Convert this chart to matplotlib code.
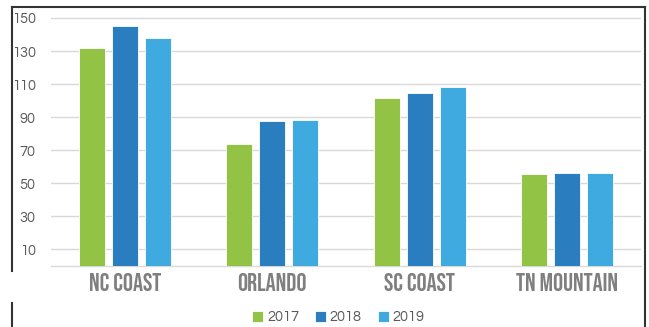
import matplotlib.pyplot as plt
import numpy as np
from matplotlib.lines import Line2D
import logging

logging.getLogger("matplotlib.font_manager").setLevel(logging.ERROR)

categorias = ["NC COAST", "ORLANDO", "SC COAST", "TN MOUNTAIN"]
anos = ["2017", "2018", "2019"]
valores_2017 = [132, 74, 101.5, 55.5]
valores_2018 = [145, 87.5, 104.5, 56]
valores_2019 = [138, 88, 108, 56.5]
ticks_y = [10, 30, 50, 70, 90, 110, 130, 150]

cores = ["#93c344", "#2a7ec0", "#3eaadf"]
fonte_num = ["Questrial", "Didact Gothic", "Lato", "DejaVu Sans"]
fonte_cat = ["Bebas Neue", "Oswald", "DejaVu Sans"]


def main():
    fig = plt.figure(figsize=(6.49, 3.27), dpi=100)
    ax = fig.add_axes([51 / 649, 1 - 266 / 327, 590 / 649, (266 - 16) / 327])

    x = np.arange(len(categorias))
    largura = 0.175
    passo = 0.224
    series = [valores_2017, valores_2018, valores_2019]
    for i, vals in enumerate(series):
        ax.bar(x + (i - 1) * passo, vals, largura, color=cores[i],
               edgecolor="white", linewidth=0.6, label=anos[i], zorder=3)

    ax.set_xlim(-0.5, len(categorias) - 0.5)
    ax.set_ylim(0, 151.2)
    ax.set_yticks(ticks_y)
    ax.set_yticklabels([str(t) for t in ticks_y], fontsize=10.5, color="#595959",
                       family=fonte_num)
    ax.set_xticks(x)
    ax.set_xticklabels(categorias, fontsize=18, color="#7f7f7f",
                       family=fonte_cat)
    ax.tick_params(axis="both", length=0)
    ax.tick_params(axis="y", pad=11)
    ax.tick_params(axis="x", pad=5)
    ax.yaxis.grid(True, color="#d9d9d9", linewidth=1, zorder=0)
    for s in ["top", "right", "left"]:
        ax.spines[s].set_visible(False)
    ax.spines["bottom"].set_color("#d9d9d9")
    ax.spines["bottom"].set_linewidth(1)

    leg = ax.legend(loc="upper center", bbox_to_anchor=(0.487, -0.125), ncol=3,
                    frameon=False, handlelength=0.75, handleheight=0.75,
                    handletextpad=0.25, columnspacing=1.1,
                    prop={"family": fonte_num, "size": 10.5})
    for t in leg.get_texts():
        t.set_color("#595959")

    # moldura
    def px(xp, yp):
        return xp / 649, 1 - yp / 327
    moldura = [
        ((12, 7), (645, 7)),
        ((12, 7), (12, 271)),
        ((12, 303), (12, 327)),
        ((645, 7), (645, 327)),
    ]
    for a, b in moldura:
        x0, y0 = px(*a)
        x1, y1 = px(*b)
        fig.add_artist(Line2D([x0, x1], [y0, y1], color="#333333", linewidth=1.5,
                              transform=fig.transFigure))

    fig.savefig("out.png", dpi=100)


if __name__ == '__main__':
    main()
